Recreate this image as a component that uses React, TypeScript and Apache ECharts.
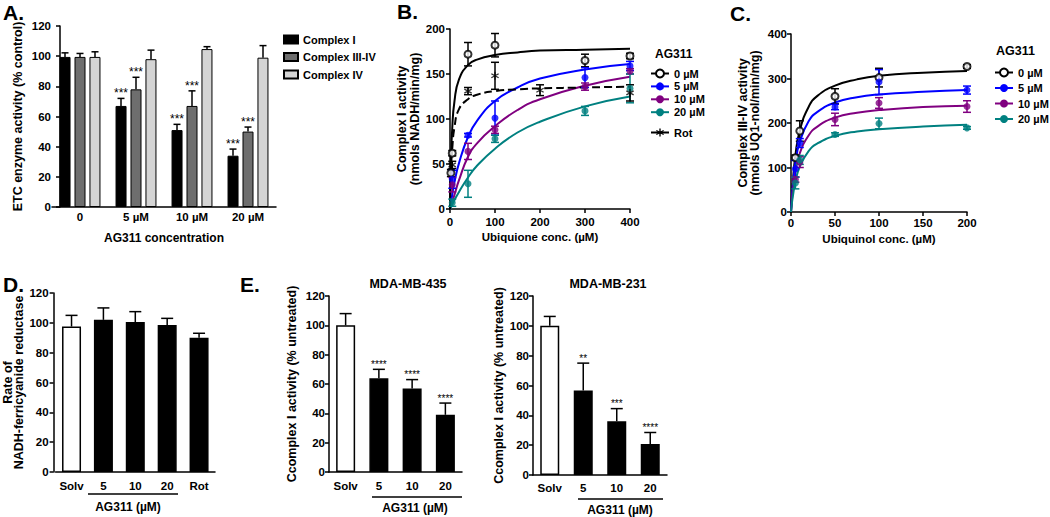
import React, { useEffect, useRef } from 'react';
import * as echarts from 'echarts';

const FONT = '"Liberation Sans", Arial, Helvetica, sans-serif';

// ---------- Panel A ----------
const aCategories = ['0', '5 µM', '10 µM', '20 µM'];
const aComplexI = [99.5, 67, 51, 34];
const aComplexIErr = [2.7, 5, 3.8, 4.4];
const aComplexIIIIV = [99.5, 78, 67, 50];
const aComplexIIIIVErr = [2.3, 8, 10, 3];
const aComplexIV = [99.5, 98, 104.7, 99];
const aComplexIVErr = [3.4, 6, 1.6, 8];
const aStarsI = ['', '***', '***', '***'];
const aStarsIIIIV = ['', '***', '***', '***'];
const aStarsIV = ['', '', '', ''];

// ---------- Panel B ----------
const bFitX = [0, 2, 5, 10, 20, 40, 60, 100, 150, 200, 300, 400];
const bFit0 = [0, 51, 90, 120, 144, 160, 166, 171, 174, 176, 177, 178];
const bFit5 = [0, 6, 16, 30, 51, 80, 98, 120, 135, 145, 155, 161];
const bFit10 = [0, 3, 8, 16, 32, 58, 73, 92, 110, 122, 137, 147];
const bFit20 = [0, 2, 5, 10, 19, 35, 48, 67, 85, 97, 114, 125];
const bFitRot = [0, 40, 67, 91, 111, 122, 127, 131, 133, 134, 135, 136];

const b0X = [2, 5, 40, 100, 300, 400];
const b0Y = [40, 62, 172, 182, 165, 170];
const b0E = [4, 3, 13, 13, 7, 3];
const bX = [5, 40, 100, 300, 400];
const b5Y = [33, 82, 101, 146, 159];
const b5E = [10, 2, 19, 11, 5];
const b10Y = [27, 64, 88, 136, 153];
const b10E = [8, 9, 4, 4, 3];
const b20Y = [7, 28, 78, 109, 134];
const b20E = [4, 15, 4, 5, 16];
const bRotX = [5, 40, 100, 200, 400];
const bRotY = [49, 131, 148, 132, 129];
const bRotE = [4, 4, 15, 6, 9];

// ---------- Panel C ----------
const cFitX = [0, 1, 2, 5, 10, 20, 30, 50, 75, 100, 150, 200];
const cFit0 = [0, 37, 66, 127, 183, 236, 261, 284, 298, 306, 313, 317];
const cFit5 = [0, 32, 57, 110, 158, 204, 225, 246, 258, 264, 270, 274];
const cFit10 = [0, 25, 45, 89, 132, 172, 192, 212, 223, 229, 236, 239];
const cFit20 = [0, 19, 34, 68, 102, 137, 154, 171, 181, 186, 192, 196];

const cX = [5, 10, 50, 100, 200];
const c0Y = [122, 182, 260, 302, 327];
const c0E = [6, 23, 17, 21, 4];
const c5Y = [97, 155, 236, 292, 274];
const c5E = [19, 10, 6, 28, 9];
const c10Y = [73, 112, 208, 245, 237];
const c10E = [6, 12, 14, 12, 13];
const c20Y = [65, 117, 174, 199, 189];
const c20E = [13, 10, 4, 12, 3];

// ---------- Panel D ----------
const dCategories = ['Solv', '5', '10', '20', 'Rot'];
const dValues = [97.5, 102, 100.5, 98.6, 90];
const dErr = [7.5, 8, 7, 4.4, 3];
const dStars = ['', '', '', '', ''];

// ---------- Panel E ----------
const eCategories = ['Solv', '5', '10', '20'];
const e435Values = [100, 64, 57, 39];
const e435Err = [8, 6, 6, 8];
const e435Stars = ['', '****', '****', '****'];
const e231Values = [100, 56.6, 36, 20.7];
const e231Err = [6.3, 18.4, 8.5, 7.8];
const e231Stars = ['', '**', '***', '****'];

const BLUE = '#0000ff';
const PURPLE = '#800080';
const TEAL = '#008080';
const STAR =
  'path://M-0.8,-5L0.8,-5L0.8,5L-0.8,5ZM4.73,1.81L3.93,3.19L-4.73,-1.81L-3.93,-3.19ZM3.93,-3.19L4.73,-1.81L-3.93,3.19L-4.73,1.81Z';

const zip = (xs: number[], ys: number[]) => xs.map((x, i) => [x, ys[i]]);

function barErr(xi: number, values: number[], errs: number[], stars: string[], offset: number, capW: number, starSize: number) {
  return {
    type: 'custom',
    xAxisIndex: xi,
    yAxisIndex: xi,
    z: 5,
    silent: true,
    itemStyle: { color: '#000' },
    data: values.map((v, i) => [i, v, errs[i]]),
    encode: { x: 0, y: 1 },
    renderItem: (params: any, api: any) => {
      const i = api.value(0);
      const v = api.value(1);
      const e = api.value(2);
      const base = api.coord([i, v]);
      const top = api.coord([i, v + e]);
      const x = base[0] + offset;
      const children: any[] = [
        { type: 'line', shape: { x1: x, y1: base[1], x2: x, y2: top[1] }, style: { stroke: '#000', lineWidth: 1.5 } },
        { type: 'line', shape: { x1: x - capW / 2, y1: top[1], x2: x + capW / 2, y2: top[1] }, style: { stroke: '#000', lineWidth: 1.5 } },
      ];
      const s = stars[params.dataIndex];
      if (s) {
        children.push({
          type: 'text',
          x,
          y: top[1] - 5,
          style: { text: s, fill: '#000', fontSize: starSize, fontFamily: FONT, align: 'center', verticalAlign: 'middle' },
        });
      }
      return { type: 'group', children };
    },
  };
}

function ptErr(xi: number, xs: number[], ys: number[], errs: number[], color: string, capW: number) {
  return {
    type: 'custom',
    xAxisIndex: xi,
    yAxisIndex: xi,
    z: 3,
    silent: true,
    itemStyle: { color },
    data: xs.map((x, i) => [x, ys[i], errs[i]]),
    encode: { x: 0, y: 1 },
    renderItem: (_p: any, api: any) => {
      const x = api.value(0);
      const y = api.value(1);
      const e = api.value(2);
      const lo = api.coord([x, y - e]);
      const hi = api.coord([x, y + e]);
      const st = { stroke: color, lineWidth: 1.5 };
      return {
        type: 'group',
        children: [
          { type: 'line', shape: { x1: lo[0], y1: lo[1], x2: hi[0], y2: hi[1] }, style: st },
          { type: 'line', shape: { x1: lo[0] - capW / 2, y1: lo[1], x2: lo[0] + capW / 2, y2: lo[1] }, style: st },
          { type: 'line', shape: { x1: hi[0] - capW / 2, y1: hi[1], x2: hi[0] + capW / 2, y2: hi[1] }, style: st },
        ],
      };
    },
  };
}

const axisLine = { show: true, lineStyle: { color: '#000', width: 1.5 } };
const tickStyle = { show: true, length: 4, lineStyle: { color: '#000', width: 1.5 } };
const labelStyle = (margin: number) => ({ color: '#000', fontWeight: 'bold', fontSize: 11.5, fontFamily: FONT, margin });

function yAx(gi: number, max: number, interval: number, name: string, nameGap: number, margin: number, lineHeight: number, offset = 0) {
  return {
    type: 'value',
    gridIndex: gi,
    min: 0,
    max,
    interval,
    offset,
    name,
    nameLocation: 'middle',
    nameGap,
    nameRotate: 90,
    nameTextStyle: { fontSize: 12.5, fontWeight: 'bold', color: '#000', fontFamily: FONT, lineHeight, align: 'center' },
    axisLine,
    axisTick: tickStyle,
    axisLabel: labelStyle(margin),
    splitLine: { show: false },
  };
}

function catAx(gi: number, data: string[], margin: number, name = '', nameGap = 0) {
  return {
    type: 'category',
    gridIndex: gi,
    data,
    name,
    nameLocation: 'middle',
    nameGap,
    nameTextStyle: { fontSize: 12, fontWeight: 'bold', color: '#000', fontFamily: FONT },
    axisLine,
    axisTick: { show: false },
    axisLabel: { ...labelStyle(margin), interval: 0 },
  };
}

function valXAx(gi: number, max: number, interval: number, name: string, nameGap: number, margin: number) {
  return {
    type: 'value',
    gridIndex: gi,
    min: 0,
    max,
    interval,
    name,
    nameLocation: 'middle',
    nameGap,
    nameTextStyle: { fontSize: 11.5, fontWeight: 'bold', color: '#000', fontFamily: FONT },
    axisLine,
    axisTick: tickStyle,
    axisLabel: labelStyle(margin),
    splitLine: { show: false },
  };
}

function fitLine(xi: number, name: string, xs: number[], ys: number[], color: string, symbol: string, dashed = false) {
  return {
    type: 'line',
    name,
    xAxisIndex: xi,
    yAxisIndex: xi,
    data: zip(xs, ys),
    smooth: true,
    showSymbol: false,
    symbol,
    symbolSize: 7,
    itemStyle: { color },
    lineStyle: { color, width: 2, type: dashed ? 'dashed' : 'solid' },
    z: 2,
    silent: true,
  };
}

function pts(xi: number, name: string, xs: number[], ys: number[], color: string, symbol: string, size = 7) {
  return {
    type: 'scatter',
    name,
    xAxisIndex: xi,
    yAxisIndex: xi,
    data: zip(xs, ys),
    symbol,
    symbolSize: size,
    itemStyle: { color, borderColor: color, borderWidth: symbol === 'emptyCircle' ? 1.5 : 0 },
    z: 4,
    silent: true,
  };
}

function text(t: string, x: number, y: number, size: number, align = 'left', vAlign = 'top', weight = 'bold') {
  return {
    type: 'text',
    x,
    y,
    silent: true,
    style: {
      text: t,
      fill: '#000',
      font: `${weight} ${size}px ${FONT}`,
      align,
      verticalAlign: vAlign,
      textAlign: align,
      textVerticalAlign: vAlign,
    },
  };
}

function hline(x1: number, x2: number, y: number) {
  return { type: 'line', silent: true, shape: { x1, y1: y, x2, y2: y }, style: { stroke: '#000', lineWidth: 1.5 } };
}

const legendText = (size: number) => ({ fontSize: size, fontWeight: 'bold', color: '#000', fontFamily: FONT });

export default function App() {
  const ref = useRef<HTMLDivElement>(null);
  useEffect(() => {
    if (!ref.current) return;
    const chart = echarts.init(ref.current, undefined, { renderer: 'svg' });
    const option: any = {
      animation: false,
      backgroundColor: '#fff',
      textStyle: { fontFamily: FONT },
      grid: [
        { left: 52, top: 26, width: 224, height: 181 },
        { left: 450, top: 29, width: 180, height: 180 },
        { left: 791, top: 34, width: 176, height: 178 },
        { left: 51, top: 293, width: 164, height: 179 },
        { left: 329, top: 296, width: 133, height: 176 },
        { left: 533, top: 296, width: 134, height: 179 },
      ],
      xAxis: [
        catAx(0, aCategories, 4, 'AG311 concentration', 25),
        valXAx(1, 400, 100, 'Ubiquione conc. (µM)', 22, 7),
        valXAx(2, 200, 50, 'Ubiquinol conc. (µM)', 21, 5),
        catAx(3, dCategories, 8),
        catAx(4, eCategories, 8),
        catAx(5, eCategories, 7),
      ],
      yAxis: [
        yAx(0, 120, 20, 'ETC enzyme activity (% control)', 35, 9, 14, -8),
        yAx(1, 200, 50, 'Complex I activity\n(nmols NADH/min/mg)', 25, 5, 13),
        yAx(2, 400, 100, 'Complex III-IV activity\n(nmols UQ1-nol/min/mg)', 30, 4, 12),
        yAx(3, 120, 20, 'Rate of\nNADH-ferricyanide reductase', 24, 5, 11.5, 2),
        yAx(4, 120, 20, 'Ccomplex I activity (% untreated)', 30, 4, 14),
        yAx(5, 120, 20, 'Ccomplex I activity (% untreated)', 26, 4, 14),
      ],
      legend: [
        {
          data: ['Complex I', 'Complex III-IV', 'Complex IV'],
          orient: 'vertical',
          left: 283,
          top: 34,
          padding: 0,
          itemWidth: 14,
          itemHeight: 8,
          itemGap: 6.5,
          icon: 'rect',
          selectedMode: false,
          textStyle: legendText(11),
        },
        {
          data: ['0 µM', '5 µM', '10 µM', '20 µM'],
          orient: 'vertical',
          left: 650,
          top: 68,
          padding: 0,
          itemWidth: 18,
          itemHeight: 10,
          itemGap: 1.9,
          selectedMode: false,
          textStyle: legendText(11),
        },
        {
          data: ['Rot'],
          orient: 'vertical',
          left: 650,
          top: 127,
          padding: 0,
          itemWidth: 18,
          itemHeight: 10,
          lineStyle: { type: 'solid' },
          selectedMode: false,
          textStyle: legendText(11),
        },
        {
          data: ['0 µM', '5 µM', '10 µM', '20 µM'],
          orient: 'vertical',
          left: 994,
          top: 67,
          padding: 0,
          itemWidth: 18,
          itemHeight: 10,
          itemGap: 4.5,
          selectedMode: false,
          textStyle: legendText(11),
        },
      ],
      series: [
        // Panel B fits
        fitLine(1, '0 µM', bFitX, bFit0, '#000', 'emptyCircle'),
        fitLine(1, '5 µM', bFitX, bFit5, BLUE, 'circle'),
        fitLine(1, '10 µM', bFitX, bFit10, PURPLE, 'circle'),
        fitLine(1, '20 µM', bFitX, bFit20, TEAL, 'circle'),
        fitLine(1, 'Rot', bFitX, bFitRot, '#000', STAR, true),
        // Panel A
        { type: 'bar', name: 'Complex I', xAxisIndex: 0, yAxisIndex: 0, data: aComplexI, barWidth: 11, barGap: '36%', itemStyle: { color: '#000', borderColor: '#000', borderWidth: 1 } },
        { type: 'bar', name: 'Complex III-IV', xAxisIndex: 0, yAxisIndex: 0, data: aComplexIIIIV, barWidth: 11, barGap: '36%', itemStyle: { color: '#6e6e6e', borderColor: '#000', borderWidth: 1 } },
        { type: 'bar', name: 'Complex IV', xAxisIndex: 0, yAxisIndex: 0, data: aComplexIV, barWidth: 11, barGap: '36%', itemStyle: { color: '#d4d4d4', borderColor: '#000', borderWidth: 1 } },
        barErr(0, aComplexI, aComplexIErr, aStarsI, -15, 7, 12),
        barErr(0, aComplexIIIIV, aComplexIIIIVErr, aStarsIIIIV, 0, 7, 12),
        barErr(0, aComplexIV, aComplexIVErr, aStarsIV, 15, 7, 12),
        // Panel B points
        ptErr(1, b0X, b0Y, b0E, '#000', 8),
        ptErr(1, bX, b5Y, b5E, BLUE, 8),
        ptErr(1, bX, b10Y, b10E, PURPLE, 8),
        ptErr(1, bX, b20Y, b20E, TEAL, 8),
        ptErr(1, bRotX, bRotY, bRotE, '#000', 8),
        pts(1, '0 µM', b0X, b0Y, '#000', 'emptyCircle'),
        pts(1, '5 µM', bX, b5Y, BLUE, 'circle'),
        pts(1, '10 µM', bX, b10Y, PURPLE, 'circle'),
        pts(1, '20 µM', bX, b20Y, TEAL, 'circle'),
        pts(1, 'Rot', bRotX, bRotY, '#000', STAR, 8),
        // Panel C
        fitLine(2, '0 µM', cFitX, cFit0, '#000', 'emptyCircle'),
        fitLine(2, '5 µM', cFitX, cFit5, BLUE, 'circle'),
        fitLine(2, '10 µM', cFitX, cFit10, PURPLE, 'circle'),
        fitLine(2, '20 µM', cFitX, cFit20, TEAL, 'circle'),
        ptErr(2, cX, c0Y, c0E, '#000', 8),
        ptErr(2, cX, c5Y, c5E, BLUE, 8),
        ptErr(2, cX, c10Y, c10E, PURPLE, 8),
        ptErr(2, cX, c20Y, c20E, TEAL, 8),
        pts(2, '0 µM', cX, c0Y, '#000', 'emptyCircle'),
        pts(2, '5 µM', cX, c5Y, BLUE, 'circle'),
        pts(2, '10 µM', cX, c10Y, PURPLE, 'circle'),
        pts(2, '20 µM', cX, c20Y, TEAL, 'circle'),
        // Panel D
        {
          type: 'bar', name: 'D', xAxisIndex: 3, yAxisIndex: 3, barWidth: 19,
          data: dValues.map((v, i) => ({ value: v, itemStyle: { color: i === 0 ? '#fff' : '#000', borderColor: '#000', borderWidth: 1.5 } })),
        },
        barErr(3, dValues, dErr, dStars, 0, 12, 11),
        // Panel E
        {
          type: 'bar', name: 'E435', xAxisIndex: 4, yAxisIndex: 4, barWidth: 19,
          data: e435Values.map((v, i) => ({ value: v, itemStyle: { color: i === 0 ? '#fff' : '#000', borderColor: '#000', borderWidth: 1.5 } })),
        },
        barErr(4, e435Values, e435Err, e435Stars, 0, 12, 10),
        {
          type: 'bar', name: 'E231', xAxisIndex: 5, yAxisIndex: 5, barWidth: 19,
          data: e231Values.map((v, i) => ({ value: v, itemStyle: { color: i === 0 ? '#fff' : '#000', borderColor: '#000', borderWidth: 1.5 } })),
        },
        barErr(5, e231Values, e231Err, e231Stars, 0, 12, 10),
      ],
      graphic: [
        text('A.', 3, 2, 21),
        text('B.', 397, 1, 21),
        text('C.', 730, 3, 21),
        text('D.', 3, 274, 21),
        text('E.', 240, 274, 21),
        text('AG311', 655, 48, 12),
        text('AG311', 996, 44, 12.5),
        text('MDA-MB-435', 408, 284, 12.5, 'center', 'middle'),
        text('MDA-MB-231', 608, 284, 12.5, 'center', 'middle'),
        hline(88, 178, 494),
        hline(372, 462, 497),
        hline(578, 663, 499),
        text('AG311 (µM)', 128, 507, 12, 'center', 'middle'),
        text('AG311 (µM)', 415, 508, 12, 'center', 'middle'),
        text('AG311 (µM)', 620, 510, 12, 'center', 'middle'),
      ],
    };
    chart.setOption(option);
    return () => chart.dispose();
  }, []);
  return (
    <div
      ref={ref}
      style={{ position: 'absolute', left: 0, top: 0, width: 1050, height: 517, background: '#fff' }}
    />
  );
}
